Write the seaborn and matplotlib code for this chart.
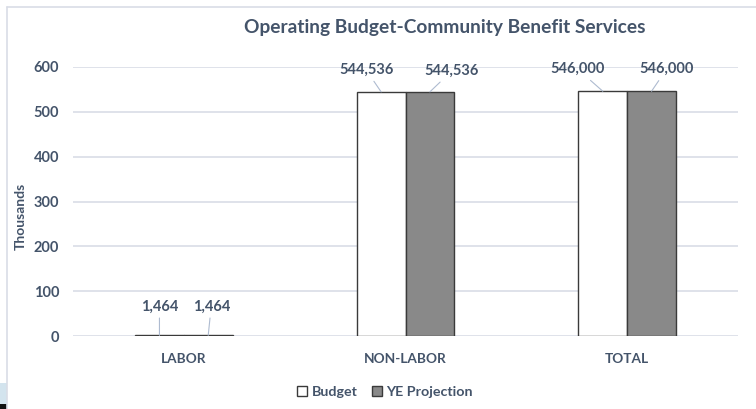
import matplotlib
matplotlib.use("Agg")
import matplotlib.pyplot as plt
import seaborn as sns
import pandas as pd
from matplotlib.lines import Line2D
from matplotlib.patches import Rectangle

categories = ["LABOR", "NON-LABOR", "TOTAL"]
budget = [1464, 544536, 546000]
ye_projection = [1464, 544536, 546000]
series_names = ["Budget", "YE Projection"]
yticks = [0, 100, 200, 300, 400, 500, 600]

df = pd.DataFrame({
    "category": categories * 2,
    "series": [series_names[0]] * 3 + [series_names[1]] * 3,
    "value": budget + ye_projection,
})
df["thousands"] = df["value"] / 1000.0

sns.set_theme(style="white")
plt.rcParams["font.family"] = ["Lato", "DejaVu Sans"]

TXT = "#44546a"
GRID = "#d9dde6"

fig = plt.figure(figsize=(7.56, 4.09), dpi=100)
ax = fig.add_axes([73/756, 1-336/409, (738-73)/756, (336-67)/409])

sns.barplot(data=df, x="category", y="thousands", hue="series",
            hue_order=series_names, order=categories,
            palette={"Budget": "#ffffff", "YE Projection": "#898989"},
            width=0.44, gap=0, edgecolor="#3a3a3a", linewidth=1.0,
            ax=ax, legend=True, zorder=3)

ax.set_ylim(0, 600)
ax.set_xlim(-0.5, 2.5)
ax.set_yticks(yticks)
ax.set_yticklabels([str(t) for t in yticks])
ax.yaxis.grid(True, color=GRID, linewidth=1.2, zorder=0)
ax.set_axisbelow(True)
for s in ax.spines.values():
    s.set_visible(False)
ax.tick_params(axis="both", length=0, labelcolor=TXT)
ax.tick_params(axis="y", labelsize=10.5, pad=10)
ax.tick_params(axis="x", labelsize=9.8, pad=12)
for lbl in ax.get_xticklabels() + ax.get_yticklabels():
    lbl.set_fontweight("bold")
ax.set_xlabel("")
ax.set_ylabel("Thousands", fontsize=10, fontweight="bold", color=TXT)
ax.yaxis.set_label_coords(-0.07, 0.446)

# value labels with leader lines
offsets = {
    ("Budget", 0): (0, 22), ("YE Projection", 0): (3, 22),
    ("Budget", 1): (-15, 15), ("YE Projection", 1): (22, 14),
    ("Budget", 2): (-25, 15), ("YE Projection", 2): (15, 15),
}
bars = ax.patches
for si, name in enumerate(series_names):
    vals = budget if si == 0 else ye_projection
    for ci in range(len(categories)):
        p = bars[si * len(categories) + ci]
        xc = p.get_x() + p.get_width() / 2
        yt = p.get_height()
        ax.annotate(f"{vals[ci]:,}", xy=(xc, yt), xytext=offsets[(name, ci)],
                    textcoords="offset pixels", ha="center", va="bottom",
                    fontsize=10.5, fontweight="bold", color=TXT,
                    arrowprops=dict(arrowstyle="-", color="#aebbd0", lw=0.8,
                                    shrinkA=1, shrinkB=0))

# legend
handles, labels = ax.get_legend_handles_labels()
ax.get_legend().remove()
leg = fig.legend(handles, labels, loc="center", bbox_to_anchor=(385/756, 1-392/409),
                 ncol=2, frameon=False, handlelength=0.7, handleheight=0.7,
                 handletextpad=0.3, columnspacing=1.0, fontsize=10.3)
for t in leg.get_texts():
    t.set_color(TXT)
    t.set_fontweight("bold")

fig.text(445/756, 1-27/409, "Operating Budget-Community Benefit Services",
         ha="center", va="center", fontsize=13.8, fontweight="bold", color=TXT)

# chart frame
fig.add_artist(Line2D([7/756, 1], [1-7/409, 1-7/409], color=GRID, lw=1.2,
                      transform=fig.transFigure))
fig.add_artist(Line2D([7/756, 7/756], [0, 1-7/409], color=GRID, lw=1.2,
                      transform=fig.transFigure))
fig.add_artist(Rectangle((0, 0), 7/756, 26/409, transform=fig.transFigure,
                         facecolor="#d3e4ee", edgecolor="none"))
fig.add_artist(Rectangle((0, 0), 7/756, 5/409, transform=fig.transFigure,
                         facecolor="#111111", edgecolor="none"))

fig.savefig("out.png", dpi=100)
